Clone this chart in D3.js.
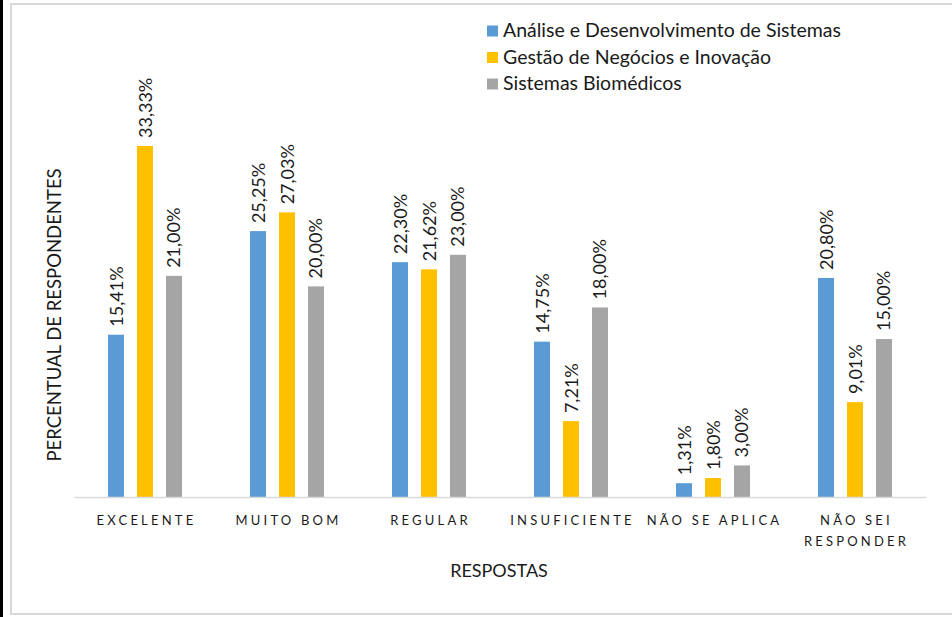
<!DOCTYPE html>
<html><head><meta charset="utf-8">
<script src="https://cdn.jsdelivr.net/npm/d3@7"></script>
<style>body{margin:0;background:#fff}svg{display:block}</style>
</head><body>
<svg id="c" width="952" height="617"></svg>
<script>
const categories = ["EXCELENTE", "MUITO BOM", "REGULAR", "INSUFICIENTE", "NÃO SE APLICA", "NÃO SEI RESPONDER"];
const categoryLines = [["EXCELENTE"], ["MUITO BOM"], ["REGULAR"], ["INSUFICIENTE"], ["NÃO SE APLICA"], ["NÃO SEI", "RESPONDER"]];
const seriesNames = ["Análise e Desenvolvimento de Sistemas", "Gestão de Negócios e Inovação", "Sistemas Biomédicos"];
const ads = [15.41, 25.25, 22.30, 14.75, 1.31, 20.80];
const gni = [33.33, 27.03, 21.62, 7.21, 1.80, 9.01];
const sb  = [21.00, 20.00, 23.00, 18.00, 3.00, 15.00];
const colors = ["#5B9BD5", "#FFC000", "#A5A5A5"];
const series = [ads, gni, sb];

const svg = d3.select("#c");
const font = "Lato, 'Open Sans', sans-serif";

// black strip and frame
svg.append("rect").attr("x",0).attr("y",0).attr("width",3).attr("height",617).attr("fill","#000");
svg.append("rect").attr("x",11).attr("y",4).attr("width",960).attr("height",610)
  .attr("fill","#fff").attr("stroke","#d9d9d9").attr("stroke-width",2);

const x0 = d3.scaleBand().domain(categories).range([74, 926]);
const x1 = d3.scaleBand().domain([0,1,2]).range([-37, 37]).paddingInner(0.448);
const y = d3.scaleLinear().domain([0, 33.33]).range([497, 146]);

const g = svg.append("g");
categories.forEach((c, i) => {
  const cx = x0(c) + x0.bandwidth()/2;
  series.forEach((s, k) => {
    const bx = cx + x1(k);
    g.append("rect").attr("x", bx).attr("y", y(s[i])).attr("width", x1.bandwidth())
      .attr("height", y(0) - y(s[i])).attr("fill", colors[k]);
    const lx = bx + x1.bandwidth()/2 + 6.5;
    const ly = y(s[i]) - 8;
    g.append("text").attr("transform", `translate(${lx},${ly}) rotate(-90)`)
      .attr("font-family", font).attr("font-size", 18).attr("fill", "#1a1a1a")
      .text(s[i].toFixed(2).replace(".", ",") + "%");
  });
});

// axis line
const xAxis = d3.axisBottom(x0).tickSize(0).tickFormat("");
const ax = svg.append("g").attr("transform", "translate(0,497)").call(xAxis);
ax.select(".domain").attr("stroke", "#d9d9d9").attr("stroke-width", 1.5);

// category labels
categories.forEach((c, i) => {
  const cx = x0(c) + x0.bandwidth()/2;
  categoryLines[i].forEach((line, j) => {
    svg.append("text").attr("x", cx + 1.5).attr("y", 525 + j*21)
      .attr("text-anchor", "middle").attr("font-family", font).attr("font-size", 13)
      .attr("letter-spacing", "3.2px").attr("fill", "#1a1a1a").text(line);
  });
});

// axis titles
svg.append("text").attr("x", 499).attr("y", 577).attr("text-anchor", "middle")
  .attr("font-family", font).attr("font-size", 18).attr("fill", "#1a1a1a").text("RESPOSTAS");
svg.append("text").attr("transform", "translate(61,315) rotate(-90)").attr("text-anchor", "middle")
  .attr("font-family", font).attr("font-size", 18.5).attr("fill", "#1a1a1a").text("PERCENTUAL DE RESPONDENTES");

// legend
seriesNames.forEach((n, k) => {
  const ly = 31 + k*26.5;
  svg.append("rect").attr("x", 487).attr("y", ly - 5.5).attr("width", 11).attr("height", 11).attr("fill", colors[k]);
  svg.append("text").attr("x", 503).attr("y", ly + 6).attr("font-family", font).attr("font-size", 19.5)
    .attr("fill", "#1a1a1a").text(n);
});
</script>
</body></html>
